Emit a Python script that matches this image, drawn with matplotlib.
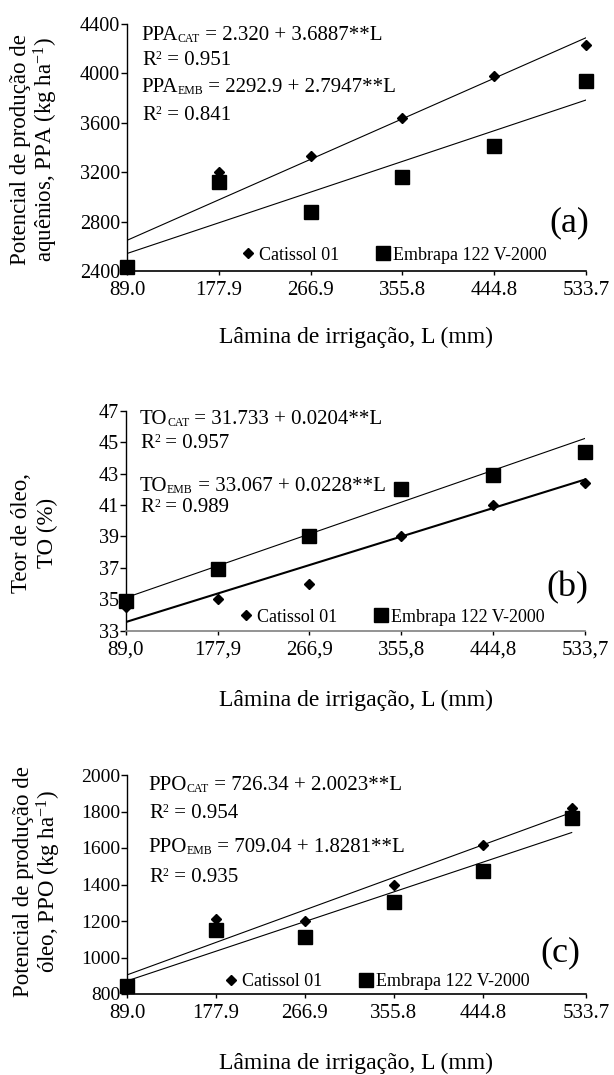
import matplotlib
matplotlib.use('Agg')
import matplotlib.pyplot as plt
from matplotlib.lines import Line2D
import numpy as np

plt.rcParams['font.family'] = ['Liberation Serif', 'DejaVu Serif']
plt.rcParams['mathtext.fontset'] = 'custom'
plt.rcParams['mathtext.rm'] = 'Liberation Serif'
plt.rcParams['mathtext.it'] = 'Liberation Serif:italic'

W, H = 614, 1075

# irrigation depth (mm)
lamina = [89.0, 177.9, 266.9, 355.8, 444.8, 533.7]
lam_dot = ['89.0', '177.9', '266.9', '355.8', '444.8', '533.7']
lam_comma = ['89,0', '177,9', '266,9', '355,8', '444,8', '533,7']

# (a) potencial de producao de aquenios
ppa_cat = [2448, 3200, 3330, 3635, 3975, 4228]
ppa_emb = [2432, 3120, 2880, 3160, 3410, 3940]
# (b) teor de oleo
to_cat = [34.5, 35.0, 36.0, 39.0, 41.0, 42.4]
to_emb = [34.9, 36.9, 39.0, 42.0, 42.9, 44.4]
# (c) potencial de producao de oleo
ppo_cat = [855, 1212, 1202, 1398, 1615, 1817]
ppo_emb = [846, 1150, 1110, 1302, 1475, 1762]

# regression lines (intercept, slope); the figure prints 2.320 for ppa_cat
ppa_fit = [(2320.0, 3.6887), (2292.9, 2.7947)]
to_fit = [(31.733, 0.0204), (33.067, 0.0228)]
ppo_fit = [(726.34, 2.0023), (709.04, 1.8281)]

eq_a = [('PPA', 'CAT', ' = 2.320 + 3.6887**L', '0.951'),
        ('PPA', 'EMB', ' = 2292.9 + 2.7947**L', '0.841')]
eq_b = [('TO', 'CAT', ' = 31.733 + 0.0204**L', '0.957'),
        ('TO', 'EMB', ' = 33.067 + 0.0228**L', '0.989')]
eq_c = [('PPO', 'CAT', ' = 726.34 + 2.0023**L', '0.954'),
        ('PPO', 'EMB', ' = 709.04 + 1.8281**L', '0.935')]

names = ['Catissol 01', 'Embrapa 122 V-2000']


def fx(px):
    return px / W


def fy(py):
    return 1 - py / H


def rich(fig, ax, px, py, pieces):
    # pieces: (text, size, rise in points)
    prev = None
    prev_rise = 0
    for s, size, rise in pieces:
        if prev is None:
            prev = fig.text(fx(px), fy(py), s, fontsize=size,
                            ha='left', va='center')
        else:
            prev = ax.annotate(s, xy=(1, 0), xycoords=prev,
                               xytext=(0, rise - prev_rise),
                               textcoords='offset points',
                               fontsize=size, ha='left', va='bottom',
                               annotation_clip=False)
        prev_rise = rise


def panel(fig, rect, cat, emb, fit, eqs, ylim, yticks, xlim, xticks,
          xlabels, eq_x, eq_y, tag, tag_xy, leg_xy, ysize, bottom_col='black',
          lw_cat=0.8):
    ax = fig.add_axes(rect)
    xs = np.array([lamina[0], lamina[-1]])
    for (b0, b1), lw in zip(fit, [lw_cat, 0.8]):
        ax.plot(xs, b0 + b1 * xs, color='black', lw=lw, zorder=2)
    ax.plot(lamina, cat, 'D', color='black', ms=5.2, zorder=3, clip_on=False)
    ax.plot(lamina, emb, 's', color='black', ms=9.5, zorder=3, clip_on=False)
    ax.set_xlim(xlim)
    ax.set_ylim(ylim)
    ax.set_xticks(xticks)
    ax.set_xticklabels(xlabels, fontsize=15)
    ax.set_yticks(yticks)
    ax.set_yticklabels([str(t) for t in yticks], fontsize=ysize)
    ax.tick_params(axis='y', direction='out', length=4, width=1, pad=1)
    ax.tick_params(axis='x', direction='out', length=3, width=1, pad=4)
    for s in ['top', 'right']:
        ax.spines[s].set_visible(False)
    ax.spines['left'].set_linewidth(1)
    ax.spines['bottom'].set_linewidth(1.2)
    ax.spines['bottom'].set_color(bottom_col)

    for i, (v, sub, rest, r2) in enumerate(eqs):
        rich(fig, ax, eq_x, eq_y[2 * i],
             [(v, 15, 0), (sub, 8.5, 0), (rest, 15, 0)])
        rich(fig, ax, eq_x + 1, eq_y[2 * i + 1],
             [('R', 15, 0), ('2', 8.5, 5.5), (' = ' + r2, 15, 0)])

    fig.text(fx(tag_xy[0]), fy(tag_xy[1]), tag, fontsize=26,
             ha='center', va='center')

    hnd = [Line2D([], [], marker='D', ls='none', color='black', ms=5.2),
           Line2D([], [], marker='s', ls='none', color='black', ms=9.5)]
    ax.legend(hnd, names, ncol=2, frameon=False, loc='center',
              bbox_to_anchor=(fx(leg_xy[0]), fy(leg_xy[1])),
              bbox_transform=fig.transFigure, fontsize=13,
              handlelength=0.8, handletextpad=0.2, columnspacing=2.0,
              borderpad=0, borderaxespad=0)
    return ax


def ylabel2(fig, x1, x2, yc, l1, l2, size=16.5):
    fig.text(fx(x1), fy(yc), l1, rotation=90, fontsize=size,
             ha='center', va='center')
    fig.text(fx(x2), fy(yc), l2, rotation=90, fontsize=size,
             ha='center', va='center')


fig = plt.figure(figsize=(W / 100, H / 100), dpi=100, facecolor='white')

# (a)
panel(fig, [fx(127), fy(271), 459 / W, 247 / H], ppa_cat, ppa_emb, ppa_fit,
      eq_a, (2400, 4400), list(range(2400, 4401, 400)),
      (lamina[0], lamina[-1]), lamina, lam_dot,
      141, [35, 60, 88, 115], '(a)', (569, 223), (394, 255), 14.5)
ylabel2(fig, 21, 46, 150, 'Potencial de produção de',
        r'aquênios, PPA (kg ha$^{\mathregular{-1}}$)')
fig.text(fx(356), fy(337), 'Lâmina de irrigação, L (mm)', fontsize=17,
         ha='center', va='center')

# (b)
panel(fig, [fx(125.7), fy(630.7), 459.3 / W, 220 / H], to_cat, to_emb,
      to_fit, eq_b, (33, 47), list(range(33, 48, 2)),
      (lamina[0], lamina[-1]), lamina, lam_comma,
      139.5, [420, 443, 486, 508], '(b)', (567, 588), (392, 617), 14.5,
      bottom_col='#808080', lw_cat=1.5)
ylabel2(fig, 22, 47, 533, 'Teor de óleo,', 'TO (%)')
fig.text(fx(356), fy(700), 'Lâmina de irrigação, L (mm)', fontsize=17,
         ha='center', va='center')

# (c) axis runs a bit past the last point, last label sits at its end
xend_c = 548.0
panel(fig, [fx(127), fy(994), 459 / W, 219 / H], ppo_cat, ppo_emb, ppo_fit,
      eq_c, (800, 2000), list(range(800, 2001, 200)),
      (lamina[0], xend_c), lamina[:-1] + [xend_c], lam_dot,
      148, [786, 813, 848, 877], '(c)', (560, 953), (377, 982), 14)
ylabel2(fig, 24, 49, 882, 'Potencial de produção de',
        r'óleo, PPO (kg ha$^{\mathregular{-1}}$)')
fig.text(fx(356), fy(1063), 'Lâmina de irrigação, L (mm)', fontsize=17,
         ha='center', va='center')

fig.savefig('out.png', dpi=100)
